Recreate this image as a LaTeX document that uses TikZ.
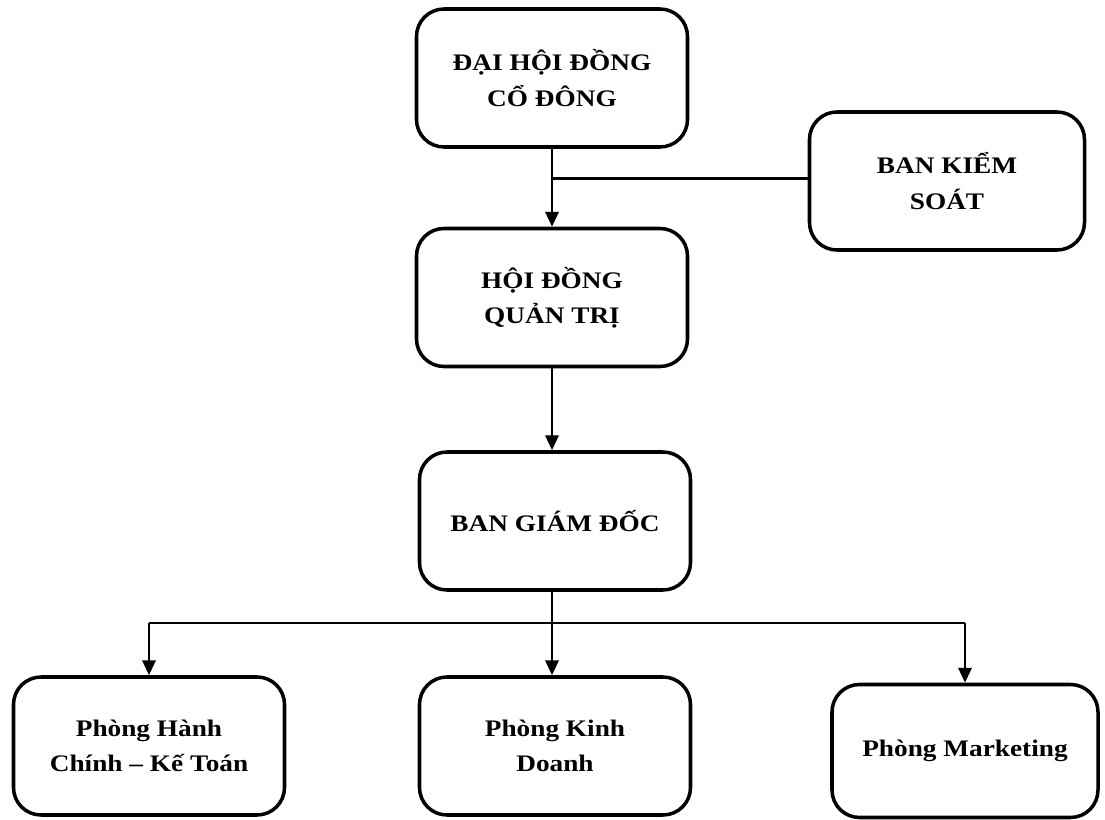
\documentclass[tikz,border=0pt]{standalone}
\usepackage{fontspec}
\newfontfamily\orgfont{Liberation Serif}[FakeStretch=1.15]
\usepackage{tikz}
\usetikzlibrary{arrows.meta, positioning, calc}

\begin{document}
\begin{tikzpicture}[
    orgbox/.style={draw, line width=2pt, rounded corners=0.55cm, align=center,
      minimum width=5.42cm, minimum height=2.76cm, inner sep=2pt,
      font=\orgfont\bfseries\fontsize{13.5}{20}\selectfont},
    link/.style={line width=1.6pt},
    arrowlink/.style={link, -{Triangle[length=8.5pt,width=7.5pt]}}
  ]
  \useasboundingbox (0,0) rectangle (22.1,-16.4);

  % Top levels
  \node[orgbox] (dhdcd) at (11.04,-1.56) {ĐẠI HỘI ĐỒNG\\CỔ ĐÔNG};
  \node[orgbox, minimum width=5.5cm] (bks) at (18.94,-3.62) {BAN KIỂM\\SOÁT};
  \node[orgbox] (hdqt) at (11.04,-5.95) {HỘI ĐỒNG\\QUẢN TRỊ};
  \node[orgbox] (bgd) at (11.1,-10.42) {BAN GIÁM ĐỐC};

  % Departments
  \node[orgbox] (phct) at (2.98,-14.92) {Phòng Hành\\Chính – Kế Toán};
  \node[orgbox] (pkd) at (11.1,-14.92) {Phòng Kinh\\Doanh};
  \node[orgbox, minimum width=5.32cm, minimum height=2.66cm] (pmkt) at (19.3,-15.02) {Phòng Marketing};

  % Connectors
  \coordinate (tap) at ($(dhdcd.south)!0.38!(hdqt.north)$);
  \draw[arrowlink] (dhdcd.south) -- (hdqt.north);
  \draw[link] (tap) -- (tap -| bks.west);
  \draw[arrowlink] (hdqt.south) -- (hdqt.south |- bgd.north);

  \coordinate (bus) at (11.06,-12.46);
  \draw[arrowlink] (bgd.south -| hdqt.south) -- (hdqt.south |- pkd.north);
  \draw[arrowlink] (bus -| phct.north) -- (phct.north);
  \draw[arrowlink] (bus -| pmkt.north) -- (pmkt.north);
  \draw[link] (bus -| phct.north) -- (bus -| pmkt.north);
\end{tikzpicture}
\end{document}
